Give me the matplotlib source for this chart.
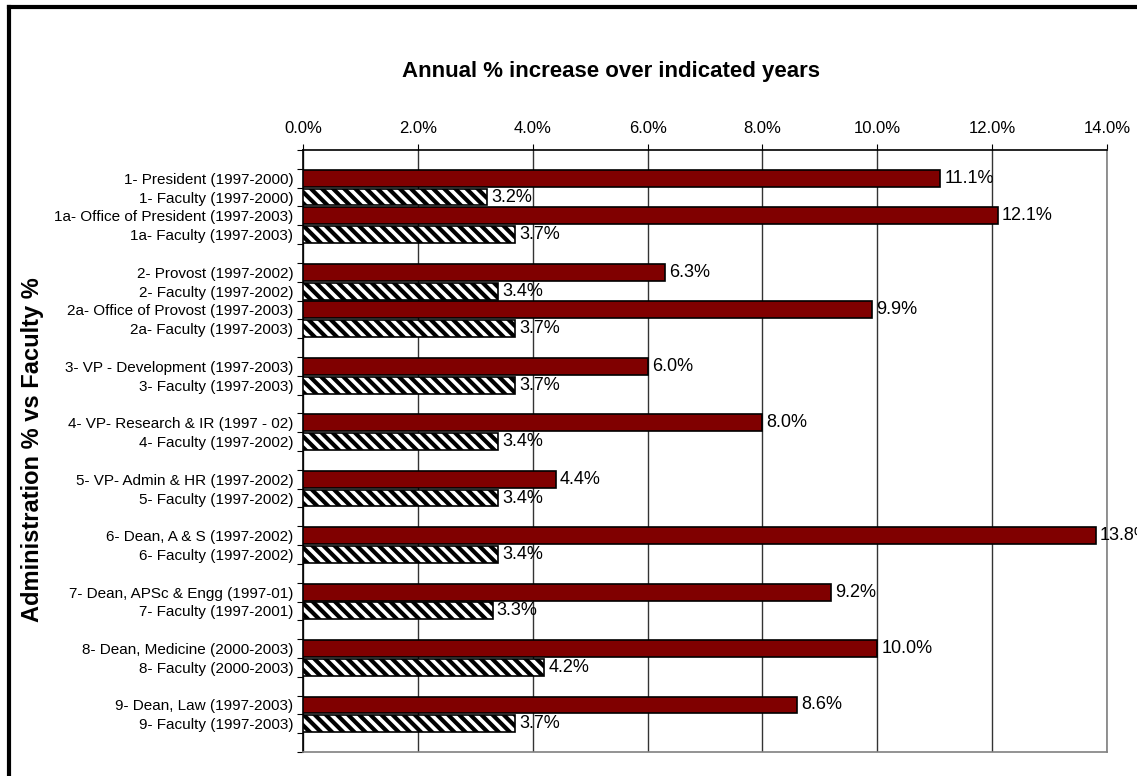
import matplotlib
matplotlib.use("Agg")
import matplotlib.pyplot as plt
from matplotlib.lines import Line2D
from matplotlib.transforms import offset_copy

plt.rcParams['font.family'] = ['Liberation Sans', 'DejaVu Sans']
plt.rcParams['hatch.linewidth'] = 3.0

# Top-to-bottom category labels; "" marks a blank spacer row
labels = ["",
          "1- President (1997-2000)", "1- Faculty (1997-2000)",
          "1a- Office of President (1997-2003)", "1a- Faculty (1997-2003)",
          "",
          "2- Provost (1997-2002)", "2- Faculty (1997-2002)",
          "2a- Office of Provost (1997-2003)", "2a- Faculty (1997-2003)",
          "",
          "3- VP - Development (1997-2003)", "3- Faculty (1997-2003)",
          "",
          "4- VP- Research & IR (1997 - 02)", "4- Faculty (1997-2002)",
          "",
          "5- VP- Admin & HR (1997-2002)", "5- Faculty (1997-2002)",
          "",
          "6- Dean, A & S (1997-2002)", "6- Faculty (1997-2002)",
          "",
          "7- Dean, APSc & Engg (1997-01)", "7- Faculty (1997-2001)",
          "",
          "8- Dean, Medicine (2000-2003)", "8- Faculty (2000-2003)",
          "",
          "9- Dean, Law (1997-2003)", "9- Faculty (1997-2003)",
          ""]
values = [None,
          11.1, 3.2, 12.1, 3.7,
          None,
          6.3, 3.4, 9.9, 3.7,
          None,
          6.0, 3.7,
          None,
          8.0, 3.4,
          None,
          4.4, 3.4,
          None,
          13.8, 3.4,
          None,
          9.2, 3.3,
          None,
          10.0, 4.2,
          None,
          8.6, 3.7,
          None]
kinds = ["", "a", "f", "a", "f", "", "a", "f", "a", "f", "",
         "a", "f", "", "a", "f", "", "a", "f", "", "a", "f", "",
         "a", "f", "", "a", "f", "", "a", "f", ""]

xticks = [0, 2, 4, 6, 8, 10, 12, 14]

fig = plt.figure(figsize=(11.37, 7.76), dpi=100)
ax = fig.add_axes([303/1137, 1-752/776, (1107-303)/1137, (752-150)/776])

lab_tr = offset_copy(ax.transData, fig=fig, x=3, y=0, units='points')

n = len(labels)
for i, (lab, v, k) in enumerate(zip(labels, values, kinds)):
    if v is None:
        continue
    if k == "a":
        ax.barh(i, v, height=0.9, color="#800000", edgecolor="black", linewidth=1.2, zorder=3)
    else:
        ax.barh(i, v, height=0.9, color="white", edgecolor="black", hatch="\\\\\\", linewidth=1.2, zorder=3)
    ax.text(v, i, f"{v:.1f}%", va="center", ha="left", fontsize=13, zorder=4,
            clip_on=False, transform=lab_tr)

ax.set_ylim(n - 0.5, -0.5)
ax.set_xlim(0, 14)
ax.set_yticks([i - 0.5 for i in range(n + 1)])
ax.set_yticklabels([])
ax.set_yticks(range(n), minor=True)
ax.set_yticklabels(labels, minor=True, fontsize=11)
ax.tick_params(axis='y', which='minor', length=0, pad=7)
ax.tick_params(axis='y', which='major', length=4, direction='out', color='black')

ax.xaxis.tick_top()
ax.set_xticks(xticks)
ax.set_xticklabels([f"{t:.1f}%" for t in xticks], fontsize=12)
ax.tick_params(axis='x', length=4, direction='out', pad=6)
ax.grid(axis='x', color='#333333', linewidth=1.0, zorder=0)
for s in ax.spines.values():
    s.set_color('#808080')
    s.set_linewidth(1.2)
ax.spines['left'].set_color('black')
ax.spines['top'].set_color('black')

fig.text(611/1137, 1 - 71/776, "Annual % increase over indicated years",
         ha="center", va="center", fontsize=16, fontweight="bold")
fig.text(33/1137, 1 - 450/776, "Administration % vs Faculty %", rotation=90,
         ha="center", va="center", fontsize=17, fontweight="bold")

# outer frame (left and top visible)
fig.add_artist(Line2D([9/1137, 9/1137], [0, 1 - 7/776], transform=fig.transFigure, color='black', lw=3))
fig.add_artist(Line2D([9/1137, 1], [1 - 7/776, 1 - 7/776], transform=fig.transFigure, color='black', lw=3))

fig.savefig("out.png", dpi=100)
